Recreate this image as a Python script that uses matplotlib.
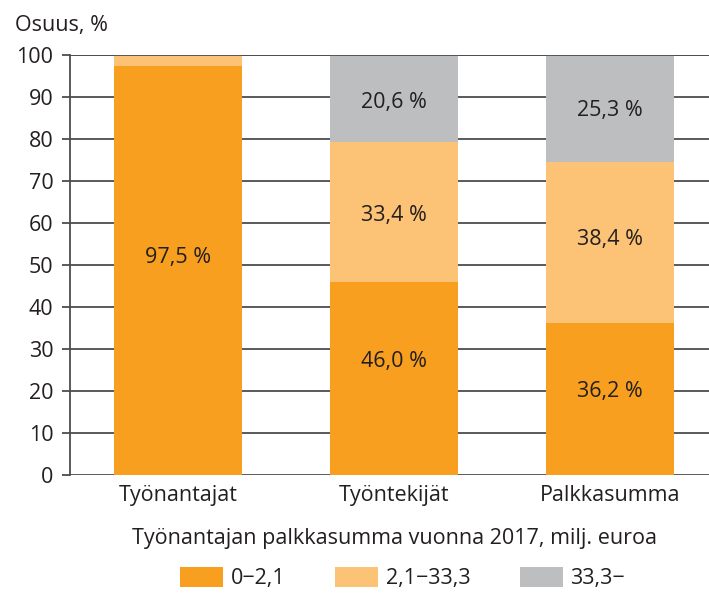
import numpy as np
import matplotlib.pyplot as plt
from matplotlib.patches import Patch

plt.rcParams['font.family'] = ['Open Sans', 'DejaVu Sans']

# Data
categories = ["Työnantajat", "Työntekijät", "Palkkasumma"]
groups = ["0\u22122,1", "2,1\u221233,3", "33,3\u2212"]
share_small = [97.5, 46.0, 36.2]
share_mid = [2.5, 33.4, 38.4]
share_large = [0.0, 20.6, 25.3]
yticks = list(range(0, 101, 10))

colors = ["#F89F1F", "#FCC275", "#BDBEC0"]
text_col = "#231F20"
grid_col = "#4D4D4F"
fs = 15.5
# vertical nudge of the value labels (data units), per series
label_nudge = [[3.1, 4.0, 1.9], [0, -0.8, 0.6], [0, -0.9, -0.5]]

fig = plt.figure(figsize=(7.09, 5.97), dpi=100)
ax = fig.add_axes([70 / 709, 122 / 597, 648 / 709, 420 / 597])

x = np.arange(len(categories))
width = 0.59
series = [share_small, share_mid, share_large]

# gridlines behind bars
ax.hlines(yticks, -0.5, 2.5, color=grid_col, linewidth=1.3, zorder=1)

bottom = np.zeros(len(categories))
for vals, col, nudge in zip(series, colors, label_nudge):
    vals = np.array(vals)
    ax.bar(x, vals, width, bottom=bottom, color=col, zorder=2)
    for xi, b, v, n in zip(x, bottom, vals, nudge):
        if v >= 10:
            ax.text(xi, b + v / 2 + n, f"{v:.1f} %".replace(".", ","),
                    ha="center", va="center", fontsize=fs, color=text_col, zorder=3)
    bottom += vals

ax.axhline(100, color=grid_col, linewidth=1.3, zorder=4)
ax.set_xlim(-0.5, 2.5)
ax.set_ylim(0, 100)
ax.set_yticks(yticks)
for s in ["top", "right", "bottom"]:
    ax.spines[s].set_visible(False)
ax.spines["left"].set_color(grid_col)
ax.spines["left"].set_linewidth(1.3)
ax.spines["left"].set_zorder(5)
ax.tick_params(axis="y", length=6, width=1.3, color=grid_col, labelsize=fs,
               labelcolor=text_col, pad=6)
ax.tick_params(axis="x", length=0, labelsize=fs, labelcolor=text_col, pad=7)
ax.set_xticks(x)
ax.set_xticklabels(categories)
ax.set_xlabel("Työnantajan palkkasumma vuonna 2017, milj. euroa", fontsize=fs,
              color=text_col, labelpad=16)

fig.text(15 / 709, 1 - 25 / 597, "Osuus, %", fontsize=fs, color=text_col,
         ha="left", va="center")

handles = [Patch(facecolor=c, edgecolor="none") for c in colors]
fig.legend(handles, groups, loc="center", bbox_to_anchor=(0.568, 1 - 578 / 597),
           ncol=3, frameon=False, fontsize=fs, handlelength=2.0, handleheight=1.1,
           columnspacing=2.3, handletextpad=0.35, labelcolor=text_col)

fig.savefig("out.png", dpi=100)
